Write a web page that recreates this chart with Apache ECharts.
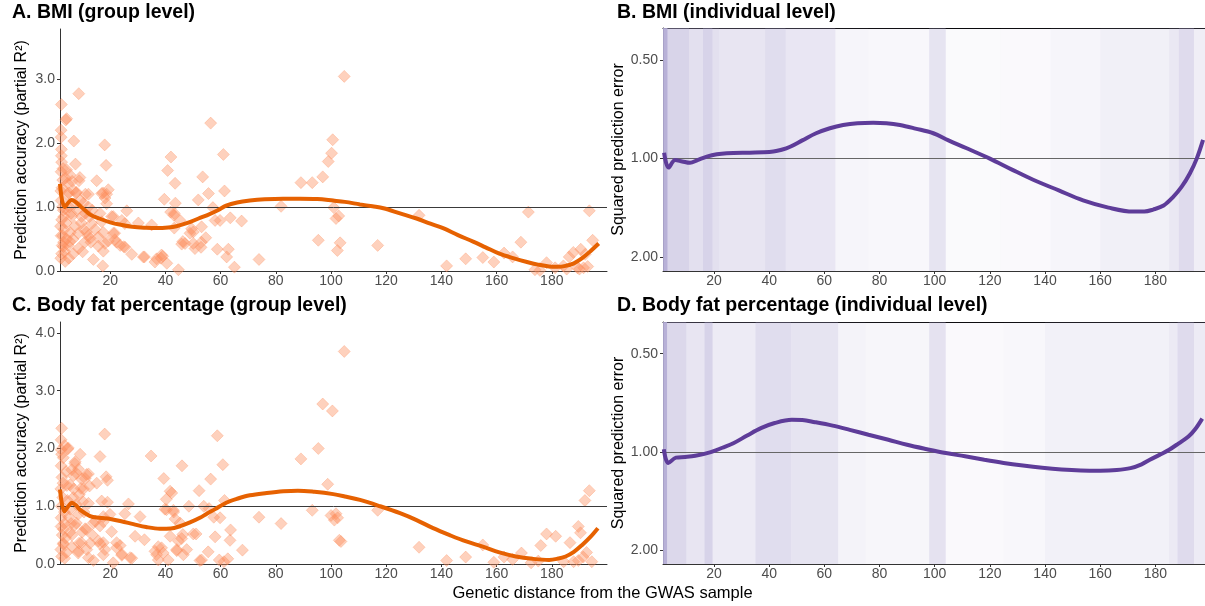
<!DOCTYPE html>
<html>
<head>
<meta charset="utf-8">
<script src="https://cdn.jsdelivr.net/npm/echarts@6/dist/echarts.min.js"></script>
<style>
html,body{margin:0;padding:0;background:#fff;}
#chart{width:1205px;height:606px;}
</style>
</head>
<body>
<div id="chart"></div>
<script>
// ---------------- DATA ----------------
const xTickValues = [20, 40, 60, 80, 100, 120, 140, 160, 180];
const groupBmiTicks = [0, 1, 2, 3];
const groupFatTicks = [0, 1, 2, 3, 4];
const errorTicks = [0.5, 1, 2];

const panelTitles = ["A. BMI (group level)", "B. BMI (individual level)",
  "C. Body fat percentage (group level)", "D. Body fat percentage (individual level)"];
const groupYName = "Prediction accuracy (partial R\u00B2)";
const indivYName = "Squared prediction error";
const xName = "Genetic distance from the GWAS sample";

// Panel A: group-level BMI points [distance, partial R2]
const bmiGroupPoints = [
[104.8,3.04],[8.6,2.77],[2.3,2.6],[4.2,2.38],[3.9,2.36],[2.2,2.2],[2.2,2.09],[6.8,2.03],[56.4,2.31],[18.0,1.97],
[100.6,2.05],[100.2,1.84],[99.0,1.71],[97.0,1.47],[93.2,1.38],[89.1,1.38],[61.0,1.82],[42.0,1.78],[40.8,1.57],[43.5,1.37],
[53.5,1.47],[55.6,1.21],[51.9,1.11],[61.4,1.25],[39.6,1.12],[43.6,1.06],[57.2,0.99],[18.5,1.65],[15.1,1.41],[18.7,1.2],
[17.4,1.22],[19.3,1.27],[12.1,1.2],[7.4,1.67],[9.0,1.46],[8.7,1.41],[7.6,1.22],[5.0,1.22],[26.0,0.94],[21.1,0.85],
[16.3,0.9],[18.7,1.05],[24.2,0.79],[30.2,0.75],[25.3,0.74],[21.1,0.59],[21.7,0.49],[23.6,0.4],[24.9,0.38],[27.8,0.26],
[32.4,0.22],[13.9,0.18],[17.3,0.08],[12.7,0.51],[15.7,0.39],[17.5,0.31],[19.3,0.47],[17.5,0.6],[36.8,0.19],[39.0,0.23],
[40.5,0.12],[44.7,0.02],[38.4,0.2],[47.1,0.43],[46.3,0.46],[50.1,0.61],[49.5,0.66],[50.7,0.35],[52.9,0.37],[54.6,0.52],
[58.8,0.34],[62.8,0.34],[62.2,0.22],[65.0,0.06],[59.8,0.79],[63.5,0.83],[67.6,0.78],[45.3,0.79],[43.2,0.9],[43.2,0.67],
[73.9,0.18],[81.9,1.01],[95.4,0.48],[101.0,0.99],[101.8,0.82],[102.8,0.86],[103.3,0.44],[102.3,0.32],[116.9,0.4],[131.9,0.87],
[141.9,0.08],[148.8,0.19],[155.0,0.21],[159.0,0.14],[162.7,0.28],[165.8,0.22],[168.8,0.45],[171.5,0.92],[178.1,0.13],[173.9,0.02],
[175.7,0.01],[181.2,0.05],[184.2,0.08],[186.3,0.22],[187.8,0.29],[189.3,0.05],[190.5,0.34],[191.5,0.05],[192.1,0.26],[193.0,0.07],
[193.6,0.94],[194.8,0.48],[190.0,0.03],[185.4,0.03],[58.0,0.79],[53.0,0.45],
[2.3,1.8],[2.4,1.7],[4.2,1.58],[5.4,1.5],[2.8,1.42],[4.6,1.37],[6.6,1.26],[7.8,1.23],[16.9,1.21],[18.1,1.14],
[10.3,1.06],[12.1,1.0],[3.9,0.97],[6.0,0.85],[9.6,0.85],[13.3,0.74],[16.9,0.77],[20.5,0.85],[35.0,0.72],[41.9,0.92],
[43.1,0.87],[48.9,0.59],[7.2,0.7],[8.4,0.59],[11.4,0.61],[15.7,0.53],[21.6,0.59],[18.1,0.43],[22.3,0.45],[25.4,0.37],
[5.4,0.46],[3.0,0.38],[6.6,0.27],[2.4,0.27],[32.0,0.22],[36.2,0.14],[38.6,0.25],[45.9,0.42],[50.1,0.43],[53.1,0.69],
[2.2,1.55],[2.5,1.3],[2.2,1.1],[3.0,0.95],[2.4,0.8],[3.3,0.65],[2.2,0.55],[2.6,0.4],[3.5,0.3],[2.1,0.2],
[4.5,1.2],[5.1,1.0],[4.0,0.75],[5.5,0.6],[4.8,0.4],[3.8,1.45],[2.9,1.6],[2.3,1.9],[5.8,0.9],[6.5,0.5],
[7.0,1.05],[8.0,0.95],[9.5,0.75],[10.5,0.65],[11.0,0.9],[12.0,0.55],[13.0,0.45],[8.5,0.35],[10.0,0.3],[11.0,1.2],
[13.5,0.95],[2.1,1.25],[2.7,1.0],[3.2,0.85],[2.0,0.7],[2.8,0.55],[4.2,0.5],[3.1,0.45],[3.7,0.15],[5.0,0.2],
[6.2,1.4],[9.2,1.1],[10.8,0.45],[14.5,0.65],[12.5,0.85]
];

// Panel C: group-level body fat points
const fatGroupPoints = [
[104.8,3.68],[97.0,2.77],[100.5,2.65],[95.4,2.0],[89.1,1.82],[98.8,1.38],[93.2,0.93],[100.0,0.84],[101.8,0.87],[101.2,0.76],
[102.4,0.8],[103.0,0.41],[103.6,0.39],[81.9,0.7],[73.9,0.81],[67.9,0.24],[63.4,0.41],[63.6,0.59],[61.4,1.1],[60.8,1.72],
[58.8,2.22],[56.4,1.47],[59.8,0.8],[59.5,0.07],[62.6,0.09],[53.9,1.0],[52.2,1.27],[55.8,0.96],[57.5,0.81],[58.0,0.47],
[55.5,0.21],[52.5,0.06],[51.1,0.52],[48.5,1.0],[46.0,1.7],[42.3,1.23],[39.4,1.48],[40.3,1.12],[40.4,0.94],[43.0,0.9],
[43.5,0.78],[45.3,0.71],[46.3,0.51],[44.7,0.4],[41.7,0.48],[44.1,0.25],[47.7,0.25],[46.5,0.16],[38.6,0.28],[36.8,0.16],
[39.2,0.19],[41.0,0.07],[34.8,1.87],[30.8,0.82],[29.0,0.48],[32.4,0.42],[27.8,0.1],[26.6,1.04],[25.3,0.87],[24.2,0.15],
[23.6,0.32],[22.3,0.28],[20.5,0.56],[19.9,0.86],[21.1,0.02],[18.0,2.25],[16.3,1.86],[18.5,1.51],[19.0,1.45],[15.1,1.4],
[12.1,1.56],[10.9,1.48],[16.9,1.09],[19.0,1.07],[17.5,0.82],[16.3,0.66],[14.6,0.74],[11.3,0.6],[12.7,0.36],[16.3,0.35],
[17.5,0.37],[18.1,0.25],[12.1,0.11],[13.9,0.06],[8.7,0.36],[8.5,0.22],[6.1,0.3],[9.1,1.9],[7.3,1.77],[4.8,2.01],
[3.5,2.05],[2.4,2.35],[2.2,2.15],[2.2,1.98],[3.0,1.84],[8.5,1.64],[6.7,1.53],[4.3,1.36],[9.4,1.31],[10.1,1.08],
[7.7,1.03],[5.0,0.81],[7.7,0.71],[6.1,0.5],[3.0,0.6],[3.0,0.36],[2.4,0.13],[3.5,0.1],[61.2,0.04],[116.9,0.93],
[131.9,0.29],[141.9,0.06],[148.8,0.12],[155.0,0.33],[159.0,0.03],[162.7,0.12],[165.8,0.08],[169.0,0.19],[176.0,0.32],[178.1,0.52],
[181.4,0.48],[186.6,0.37],[189.6,0.65],[190.4,0.54],[192.0,1.1],[193.6,1.27],[192.6,0.2],[191.4,0.12],[189.6,0.06],[187.9,0.04],
[184.3,0.04],[175.1,0.05],[194.5,0.04],[172.5,0.02],
[4.6,1.99],[2.4,1.9],[7.2,1.74],[6.0,1.63],[7.8,1.57],[11.4,1.55],[9.6,1.47],[5.4,1.37],[10.3,1.3],[41.7,1.26],
[6.6,1.15],[12.1,1.05],[39.8,0.95],[42.9,0.93],[8.4,0.86],[13.9,0.71],[17.5,0.73],[3.5,0.7],[7.2,0.67],[10.9,0.61],
[5.4,0.55],[45.9,0.44],[50.1,0.52],[9.6,0.37],[15.7,0.4],[22.3,0.37],[3.0,0.34],[8.4,0.19],[17.5,0.16],[24.2,0.17],
[27.2,0.11],[37.4,0.3],[36.2,0.22],[44.1,0.23],[37.4,0.07],[53.1,0.07],
[2.2,1.7],[2.5,1.5],[2.1,1.3],[2.8,1.15],[2.3,1.0],[3.4,0.9],[2.2,0.8],[2.6,0.5],[4.0,1.6],[4.5,1.1],
[3.8,0.45],[2.1,0.25],[5.5,0.95],[4.2,0.2],[2.9,1.4],[2.2,0.65],[6.8,1.3],[8.8,1.2],[10.5,0.9],[12.5,1.35],
[13.5,0.5],[11.5,0.25],[5.8,0.7],[9.8,0.55]
];

// Smoothed fits
const bmiGroupCurveX = [1.8,3.5,6,9.5,12.7,16,20,24,28,33,37,41,44,48,52,55,59,62,66,70.6,76,82.6,88.8,95,100.8,105,110.5,115,119,125,131,136,140.6,146,151.5,156,161,166,171,175,179,182,185,188,191,194,197];
const bmiGroupCurveY = [1.36,1.0,1.11,1.0,0.88,0.82,0.76,0.72,0.69,0.675,0.67,0.68,0.7,0.75,0.82,0.87,0.95,1.02,1.07,1.1,1.12,1.13,1.13,1.125,1.1,1.08,1.04,1.01,0.98,0.9,0.82,0.74,0.67,0.56,0.46,0.37,0.27,0.2,0.14,0.1,0.07,0.065,0.08,0.12,0.2,0.31,0.43];

const fatGroupCurveX = [1.8,3.4,4.8,6.1,7.5,9,12.7,16,20,24,28.4,33,38,42,45,48.9,52.5,55,58,62,66,70.6,76.7,82.7,88,94,100.8,105,110.5,117.8,125,131,137,143,149,155,161,167,173,179,182,185,188,191,194,196.7];
const fatGroupCurveY = [1.29,0.91,1.0,1.06,1.02,0.94,0.83,0.8,0.78,0.74,0.69,0.64,0.61,0.615,0.65,0.72,0.8,0.87,0.95,1.06,1.13,1.19,1.23,1.26,1.27,1.25,1.21,1.17,1.11,1.0,0.88,0.76,0.62,0.5,0.39,0.3,0.2,0.13,0.09,0.07,0.09,0.13,0.21,0.33,0.47,0.62];

const bmiIndivCurveX = [1.9,3.5,5.9,8.5,11.3,14,17.4,21,24.6,33,38,41.5,44.5,47.6,52,57,62,66.8,72,77.7,82.5,87.4,93,99.5,105,111.6,120,128,135.7,145,153.8,163,171.9,176,179.2,183,186.4,189.5,192.5,195,197.3];
const bmiIndivCurveY = [0.96,1.065,1.01,1.02,1.03,1.01,0.986,0.97,0.963,0.959,0.957,0.952,0.94,0.92,0.88,0.837,0.808,0.79,0.78,0.777,0.78,0.79,0.81,0.837,0.88,0.93,1.0,1.08,1.16,1.25,1.34,1.41,1.45,1.45,1.43,1.39,1.31,1.22,1.11,1.0,0.877];

const fatIndivCurveX = [1.8,3.4,6.2,9.5,13.2,18.8,23,27,32,37,42,48.2,52,56.6,63,69.2,76,83.2,90,97.2,104,111,118,125,132,139,146,153,160,166,171,175,178,181.5,185,188.5,192,194.5,197];
const fatIndivCurveY = [0.98,1.08,1.04,1.035,1.026,1.0,0.97,0.94,0.89,0.845,0.815,0.797,0.798,0.81,0.83,0.855,0.885,0.917,0.95,0.98,1.007,1.03,1.056,1.08,1.1,1.117,1.13,1.138,1.14,1.135,1.12,1.09,1.056,1.02,0.984,0.94,0.896,0.85,0.79];

// Individual-level point cloud, summarised as density of points per distance band
const bmiIndivBandEdges = [1.5,3.2,11,16,19.5,22,38.5,46,64,76,98,104,124,142,160,185,188.5,194,198];
const bmiIndivBandDensity = [0.92,0.5,0.36,0.52,0.36,0.3,0.4,0.29,0.12,0.09,0.32,0.06,0.07,0.12,0.18,0.27,0.42,0.2];
const fatIndivBandEdges = [1.5,3,10,16.5,19.5,35,48,65,75,98,104,125,140,185,188,194,198];
const fatIndivBandDensity = [0.92,0.46,0.3,0.52,0.24,0.4,0.32,0.14,0.11,0.34,0.07,0.09,0.17,0.25,0.42,0.24];

// ---------------- CHART ----------------
const FONT = "'Liberation Sans', Arial, Helvetica, sans-serif";
const ERR_MIN = 0.4, ERR_MAX = 2.2;
const zip = (xs, ys) => xs.map((x, i) => [x, ys[i]]);
const bands = (edges, dens) => dens.map((d, i) => [edges[i], edges[i + 1], d, 1]);

const grids = [
  {left: 60, top: 29, width: 547, height: 242},
  {left: 663, top: 28, right: 0, height: 243},
  {left: 60, top: 322, width: 547, height: 242},
  {left: 663, top: 322, right: 0, height: 242}
];

function xAxisCfg(gi, min, max) {
  return {
    type: 'value', gridIndex: gi, min: min, max: max,
    axisLine: {show: true, onZero: false, lineStyle: {color: '#333', width: 1}},
    axisTick: {show: true, length: 3, customValues: xTickValues, lineStyle: {color: '#333'}},
    axisLabel: {customValues: xTickValues, color: '#4d4d4d', fontSize: 14, margin: 3, fontFamily: FONT},
    splitLine: {show: false}
  };
}
function topAxisCfg(gi, min, max) {
  return {
    type: 'value', gridIndex: gi, min: min, max: max, position: 'top',
    axisLine: {show: true, onZero: false, lineStyle: {color: '#000', width: 1}},
    axisTick: {show: false}, axisLabel: {show: false}, splitLine: {show: false}
  };
}
function groupYAxis(gi, max, ticks) {
  return {
    type: 'value', gridIndex: gi, min: 0, max: max,
    name: groupYName, nameLocation: 'middle', nameGap: 30,
    nameTextStyle: {fontSize: 16, color: '#000', fontFamily: FONT},
    axisLine: {show: true, onZero: false, lineStyle: {color: '#333', width: 1}},
    axisTick: {show: true, length: 3, customValues: ticks, lineStyle: {color: '#333'}},
    axisLabel: {customValues: ticks, color: '#4d4d4d', fontSize: 14, margin: 5, fontFamily: FONT,
      formatter: v => Number(v).toFixed(1)},
    splitLine: {show: false}
  };
}
function errYAxis(gi) {
  return {
    type: 'log', logBase: 2, gridIndex: gi, min: ERR_MIN, max: ERR_MAX, inverse: true,
    name: indivYName, nameLocation: 'middle', nameGap: 33,
    nameTextStyle: {fontSize: 16, color: '#000', fontFamily: FONT},
    axisLine: {show: true, onZero: false, lineStyle: {color: '#333', width: 1}},
    axisTick: {show: true, length: 3, customValues: errorTicks, lineStyle: {color: '#333'}},
    axisLabel: {customValues: errorTicks, color: '#4d4d4d', fontSize: 14, margin: 5, fontFamily: FONT,
      formatter: v => Number(v).toFixed(2)},
    splitLine: {show: false}
  };
}

const refLine = (color) => ({
  silent: true, symbol: 'none', label: {show: false}, animation: false,
  lineStyle: {color: color, width: 1, type: 'solid'},
  data: [{yAxis: 1}]
});

function scatterSeries(xi, yi, pts) {
  return {
    type: 'scatter', xAxisIndex: xi, yAxisIndex: yi, data: pts,
    symbol: 'diamond', symbolSize: 12,
    itemStyle: {color: 'rgba(252,141,89,0.5)', borderColor: 'rgba(252,141,89,0.4)', borderWidth: 1},
    markLine: refLine('#3a3a3a'), z: 2
  };
}
function curveSeries(xi, yi, xs, ys, color) {
  return {
    type: 'line', xAxisIndex: xi, yAxisIndex: yi, data: zip(xs, ys),
    showSymbol: false, smooth: 0.35, clip: true,
    lineStyle: {color: color, width: 4}, z: 5
  };
}
function bandSeries(xi, yi, edges, dens) {
  return {
    type: 'custom', xAxisIndex: xi, yAxisIndex: yi,
    data: bands(edges, dens), encode: {x: [0, 1], y: 3}, clip: true, z: 1,
    renderItem: function (params, api) {
      const p0 = api.coord([api.value(0), ERR_MIN]);
      const p1 = api.coord([api.value(1), ERR_MAX]);
      return {
        type: 'rect',
        shape: {x: p0[0], y: Math.min(p0[1], p1[1]), width: p1[0] - p0[0], height: Math.abs(p1[1] - p0[1])},
        style: {fill: 'rgba(178,170,212,' + api.value(2) + ')'}
      };
    },
    markLine: refLine('#666')
  };
}

const titlePos = [[12, 3], [617, 3], [12, 296], [617, 296]];
const chart = echarts.init(document.getElementById('chart'), null, {renderer: 'canvas'});
chart.setOption({
  animation: false,
  backgroundColor: '#fff',
  textStyle: {fontFamily: FONT},
  title: panelTitles.map((t, i) => ({
    text: t, left: titlePos[i][0], top: titlePos[i][1], padding: 0,
    textStyle: {fontSize: 19.5, fontWeight: 'bold', color: '#000', fontFamily: FONT}
  })),
  grid: grids,
  xAxis: [
    xAxisCfg(0, 1.8, 200), xAxisCfg(1, 1.5, 198), xAxisCfg(2, 1.8, 200), xAxisCfg(3, 1.5, 198),
    topAxisCfg(1, 1.5, 198), topAxisCfg(3, 1.5, 198)
  ],
  yAxis: [
    groupYAxis(0, 3.78, groupBmiTicks), errYAxis(1), groupYAxis(2, 4.19, groupFatTicks), errYAxis(3)
  ],
  graphic: [{
    type: 'text', left: 'center', top: 585,
    style: {text: xName, fontSize: 16.5, fill: '#000', fontFamily: FONT}
  }],
  series: [
    scatterSeries(0, 0, bmiGroupPoints),
    curveSeries(0, 0, bmiGroupCurveX, bmiGroupCurveY, '#e66101'),
    bandSeries(1, 1, bmiIndivBandEdges, bmiIndivBandDensity),
    curveSeries(1, 1, bmiIndivCurveX, bmiIndivCurveY, '#5e3c99'),
    scatterSeries(2, 2, fatGroupPoints),
    curveSeries(2, 2, fatGroupCurveX, fatGroupCurveY, '#e66101'),
    bandSeries(3, 3, fatIndivBandEdges, fatIndivBandDensity),
    curveSeries(3, 3, fatIndivCurveX, fatIndivCurveY, '#5e3c99')
  ]
});
</script>
</body>
</html>
